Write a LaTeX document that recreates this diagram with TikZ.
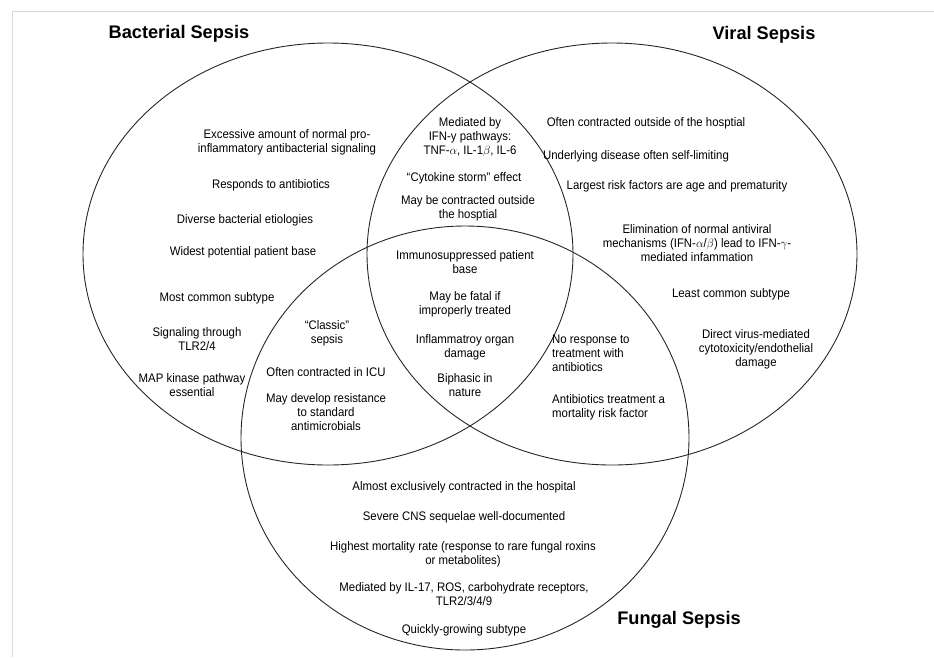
\documentclass[tikz,border=0pt]{standalone}
\usepackage{fontspec}
\setmainfont{Liberation Sans}[FakeStretch=0.92]
\newfontfamily\titlefont{Liberation Sans}
\begin{document}
\begin{tikzpicture}[x=1pt, y=-1pt,
venn/.style={draw=black!85, line width=0.9pt},
frameline/.style={draw=black!15, line width=1pt},
txt/.style={align=center, inner sep=0pt, font=\fontsize{12.4}{13.8}\selectfont},
txtleft/.style={txt, align=left, anchor=west},
setname/.style={inner sep=0pt, font=\titlefont\fontsize{18.2}{20}\selectfont\bfseries},
]
\useasboundingbox (0,0) rectangle (934,657);
%Frame
\draw[frameline] (12,657) -- (12,11) -- (934,11);
%Sets
\coordinate (bac) at (328,254);
\coordinate (vir) at (612,254);
\coordinate (fun) at (465,438);
\draw[venn] (bac) ellipse [x radius=245, y radius=211];
\draw[venn] (vir) ellipse [x radius=245, y radius=211];
\draw[venn] (fun) ellipse [x radius=224, y radius=212];
%Titles
\node[setname] at (179,34) (tb) {Bacterial Sepsis};
\node[setname] at (764,35) (tv) {Viral Sepsis};
\node[setname] at (679,620) (tf) {Fungal Sepsis};
%Bacterial only
\node[txt] at (287,142) (b1) {Excessive amount of normal pro-\\inflammatory antibacterial signaling};
\node[txt] at (271,185) (b2) {Responds to antibiotics};
\node[txt] at (245,220) (b3) {Diverse bacterial etiologies};
\node[txt] at (243,252) (b4) {Widest potential patient base};
\node[txt] at (217,298) (b5) {Most common subtype};
\node[txt] at (197,339) (b6) {Signaling through\\TLR2/4};
\node[txt] at (192,385) (b7) {MAP kinase pathway\\essential};
%Viral only
\node[txt] at (646,123) (v1) {Often contracted outside of the hosptial};
\node[txt] at (636,156) (v2) {Underlying disease often self-limiting};
\node[txt] at (677,186) (v3) {Largest risk factors are age and prematurity};
\node[txt] at (697,243) (v4) {Elimination of normal antiviral\\mechanisms (IFN-$\alpha$/$\beta$) lead to IFN-$\gamma$-\\mediated infammation};
\node[txt] at (731,294) (v5) {Least common subtype};
\node[txt] at (756,349) (v6) {Direct virus-mediated\\cytotoxicity/endothelial\\damage};
%Fungal only
\node[txt] at (464,487) (f1) {Almost exclusively contracted in the hospital};
\node[txt] at (464,517) (f2) {Severe CNS sequelae well-documented};
\node[txt] at (463,554) (f3) {Highest mortality rate (response to rare fungal roxins\\or metabolites)};
\node[txt] at (464,594) (f4) {Mediated by IL-17, ROS, carbohydrate receptors,\\TLR2/3/4/9};
\node[txt] at (464,630) (f5) {Quickly-growing subtype};
%Bacterial and viral
\node[txt] at (470,137) (bv1) {Mediated by\\IFN-y pathways:\\TNF-$\alpha$, IL-1$\beta$, IL-6};
\node[txt] at (464,178) (bv2) {“Cytokine storm” effect};
\node[txt] at (468,208) (bv3) {May be contracted outside\\the hosptial};
%Bacterial and fungal
\node[txt] at (327,333) (bf1) {“Classic”\\sepsis};
\node[txt] at (326,372) (bf2) {Often contracted in ICU};
\node[txt] at (326,412) (bf3) {May develop resistance\\to standard\\antimicrobials};
%Viral and fungal
\node[txtleft] at (552,353) (vf1) {No response to\\treatment with\\antibiotics};
\node[txtleft] at (552,407) (vf2) {Antibiotics treatment a\\mortality risk factor};
%All three
\node[txt] at (465,262) (a1) {Immunosuppressed patient\\base};
\node[txt] at (465,304) (a2) {May be fatal if\\improperly treated};
\node[txt] at (465,347) (a3) {Inflammatroy organ\\damage};
\node[txt] at (465,385) (a4) {Biphasic in\\nature};
\end{tikzpicture}
\end{document}
